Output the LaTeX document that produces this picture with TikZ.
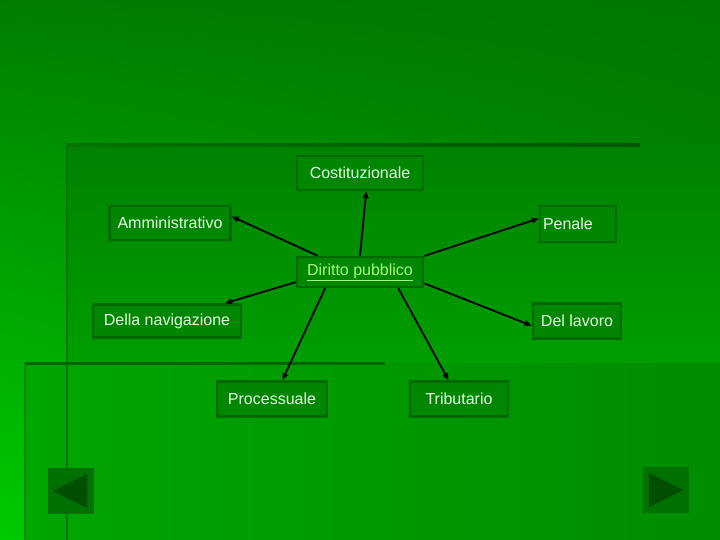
\documentclass[tikz,border=0pt]{standalone}
\usepackage{fontspec}
\setmainfont{Liberation Sans}
\usepackage{tikz}
\usetikzlibrary{arrows.meta,shadings}
\definecolor{bgul}{HTML}{007E00}
\definecolor{bgur}{HTML}{007800}
\definecolor{bgll}{HTML}{00CA00}
\definecolor{bglr}{HTML}{009600}
\definecolor{panetop}{HTML}{008200}
\definecolor{panebot}{HTML}{009E00}
\definecolor{bandl}{HTML}{00A600}
\definecolor{bandr}{HTML}{008C00}
\definecolor{rulel}{HTML}{007400}
\definecolor{ruler}{HTML}{005600}
\definecolor{rulev}{HTML}{007000}
\definecolor{ruleh}{HTML}{006400}
\definecolor{rulew}{HTML}{008C00}
\definecolor{boxfill}{HTML}{008600}
\definecolor{boxline}{HTML}{006A00}
\definecolor{boxtext}{HTML}{E6FFE6}
\definecolor{linktext}{HTML}{A6FF80}
\definecolor{navfill}{HTML}{007000}
\definecolor{navtip}{HTML}{004E00}

\begin{document}
\begin{tikzpicture}[x=1pt,y=-1pt,
	box/.style={draw=boxline, line width=2.5pt, fill=boxfill, text=boxtext,
		font=\fontsize{16}{18}\selectfont, inner sep=0pt},
	arr/.style={-{Triangle[length=7pt,width=5.5pt]}, line width=1.8pt, black}]
\useasboundingbox (0,0) rectangle (720,540);
\shade[upper left=bgul, upper right=bgur, lower left=bgll, lower right=bglr]
	(0,0) rectangle (720,540);
\shade[top color=panetop, bottom color=panebot] (67,145) rectangle (720,363);
\shade[left color=bandl, right color=bandr] (25,363) rectangle (720,540);
\shade[left color=rulel, right color=ruler] (67,143.5) rectangle (640,146.5);
\draw[line width=2pt, rulev] (67,145) -- (67,540);
\draw[line width=3pt, ruleh] (25,363) -- (385,363);
\draw[line width=1.5pt, rulew] (25,363) -- (25,540);

\node[box, minimum width=126pt, minimum height=34pt] (co) at (360,173) {Costituzionale};
\node[box, minimum width=121pt, minimum height=34pt] (am) at (170,223) {Amministrativo};
\node[box, minimum height=36pt, text width=70pt, inner xsep=3pt, align=left] (pe) at (578,224) {Penale};
\node[box, minimum width=126pt, minimum height=30pt, text=linktext] (dp) at (360,272) {\underline{Diritto pubblico}};
\node[box, minimum width=148pt, minimum height=33pt] (dn) at (167,321) {Della navigazione};
\node[box, minimum width=88pt, minimum height=35pt] (dl) at (577,321) {Del lavoro};
\node[box, minimum width=110pt, minimum height=35pt] (pr) at (272,399) {Processuale};
\node[box, minimum width=98pt, minimum height=35pt] (tr) at (459,399) {Tributario};

\path[arr]
(dp.90) edge (co.-71)
(dp.159) edge (am.6)
(dp.14) edge (pe.172)
(dp.189) edge (dn.17)
(dp.-10) edge (dl.186)
(dp.205) edge (pr.61)
(dp.-23) edge (tr.119)
;

\fill[navfill] (48,468) rectangle (94,514);
\fill[navtip] (53,491) -- (87,474) -- (87,508) -- cycle;
\fill[navfill] (643,467) rectangle (689,513);
\fill[navtip] (649,473) -- (683,490) -- (649,507) -- cycle;
\end{tikzpicture}
\end{document}
